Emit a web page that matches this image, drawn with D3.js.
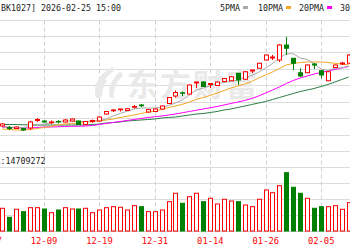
<!DOCTYPE html>
<html><head><meta charset="utf-8">
<script src="https://cdn.jsdelivr.net/npm/d3@7"></script>
<style>body{margin:0;background:#fff;overflow:hidden}svg{display:block}</style>
</head><body>
<svg id="c" width="350" height="250"></svg>
<script>
// ---- data ----
const leadDates = ["11-27","11-28"];
const dates = ["12-01","12-02","12-03","12-04","12-05","12-08","12-09","12-10","12-11","12-12",
 "12-15","12-16","12-17","12-18","12-19","12-22","12-23","12-24","12-25","12-26",
 "12-29","12-30","12-31","01-05","01-06","01-07","01-08","01-09","01-12","01-13",
 "01-14","01-15","01-16","01-19","01-20","01-21","01-22","01-23","01-26","01-27",
 "01-28","01-29","01-30","02-02","02-03","02-04","02-05","02-06","02-09","02-10","02-11"];
const open  = [2100,2094,2090,2090,2092,2122,2120,2113,2118,2116,2120,2120,2106,2118,2120,2148,2161,2165,2162,2175,
 2184,2156,2158,2168,2190,2220,2233,2228,2272,2276,2266,2262,2278,2281,2311,2287,2320,2331,2364,2372,
 2364,2424,2371,2313,2313,2348,2321,2281,2334,2348,2351];
const high  = [2112,2100,2098,2092,2120,2132,2122,2122,2124,2128,2130,2122,2120,2126,2138,2160,2168,2168,2170,2184,
 2188,2168,2170,2182,2216,2242,2238,2266,2276,2280,2272,2278,2292,2300,2312,2320,2324,2352,2386,2384,
 2428,2457,2372,2331,2346,2352,2324,2320,2346,2357,2388];
const low   = [2096,2084,2088,2080,2084,2116,2114,2108,2110,2114,2118,2104,2104,2112,2118,2146,2156,2158,2160,2170,
 2176,2154,2156,2166,2188,2214,2220,2226,2252,2256,2252,2260,2276,2280,2264,2284,2312,2330,2362,2364,
 2356,2384,2324,2296,2312,2328,2291,2280,2332,2344,2348];
const close = [2108,2090,2096,2084,2116,2126,2116,2116,2116,2124,2128,2106,2118,2122,2136,2158,2164,2168,2169,2178,
 2181,2166,2168,2180,2214,2234,2231,2264,2276,2258,2270,2276,2290,2297,2284,2317,2324,2351,2384,2376,
 2424,2411,2351,2300,2344,2344,2304,2317,2344,2352,2384];
const volume = [5680000,3430000,5430000,4830000,5830000,5830000,5500000,4580000,5250000,5830000,
 5500000,5500000,5680000,4580000,5250000,5830000,6080000,5930000,5250000,6330000,
 6080000,4830000,4830000,5250000,7330000,9430000,6930000,8580000,9430000,7330000,
 8180000,6750000,7930000,7500000,7330000,6500000,6080000,7930000,10250000,9580000,
 11330000,14580000,10930000,9430000,8180000,5680000,6080000,6080000,6330000,5430000,7080000];
const ma5  = [2096,2096,2094,2094,2099,2102,2108,2112,2118,2120,2120,2118,2118,2120,2122,2128,2140,2150,2159,2168,
 2172,2172,2172,2175,2182,2192,2205,2224,2244,2252,2260,2269,2274,2278,2284,2293,2302,2315,2332,2350,
 2372,2389,2389,2372,2366,2350,2328,2322,2331,2332,2340];
const ma10 = [2088,2086,2084,2084,2086,2090,2094,2098,2104,2108,2110,2112,2114,2118,2120,2124,2128,2134,2139,2144,
 2150,2155,2160,2166,2174,2180,2187,2196,2206,2214,2222,2232,2242,2252,2260,2268,2278,2292,2304,2316,
 2330,2344,2350,2354,2356,2356,2356,2354,2351,2348,2345];
const ma20 = [2096,2094,2093,2092,2092,2094,2096,2096,2097,2098,2099,2099,2100,2102,2106,2110,2114,2118,2122,2126,
 2130,2134,2137,2140,2144,2148,2153,2158,2163,2168,2173,2178,2184,2190,2196,2202,2210,2220,2232,2244,
 2256,2270,2282,2292,2300,2308,2314,2320,2326,2332,2338];
const ma30 = [2106,2106,2106,2105,2105,2104,2104,2104,2104,2104,2104,2104,2104,2106,2108,2112,2114,2116,2120,2122,
 2124,2126,2128,2132,2134,2136,2140,2144,2148,2150,2154,2158,2164,2168,2174,2180,2186,2192,2198,2206,
 2214,2222,2230,2238,2244,2250,2258,2266,2276,2286,2296];
const tickLabels = ["11-27","12-09","12-19","12-31","01-14","01-26","02-05"];
const titleText = "[BK1027] 2026-02-25 15:00";
const legendLabels = ["5PMA","10PMA","20PMA","30PMA"];
const legendColors = ["#a8a8a8","#f5a623","#ff00ff","#2e7d46"];
const volPrefix = "VOL";
const volText = ":14709272";
const watermark = "东方财富";

// ---- layout ----
const W = 350, H = 250;
const priceTop = 19.5, priceBottom = 151, volTop = 151, volBottom = 231;
const svg = d3.select("#c");
const mono = "'DejaVu Sans Mono', monospace";
const CH = 5; // character cell width of the bitmap-like font

function monoText(sel, str, cell) {
  return sel.text(str).attr("font-family", mono).attr("font-size", 9.5)
    .attr("textLength", str.length * (cell || CH)).attr("lengthAdjust", "spacingAndGlyphs");
}

const allDates = leadDates.concat(dates);
const step = 6.93;
const xStart = 2.2 - (leadDates.length + 0.5) * step;
const x = d3.scaleBand().domain(allDates).range([xStart, xStart + allDates.length * step]).padding(0);
const cx = d => x(d) + x.bandwidth() / 2;
const y = d3.scaleLinear().domain([2000, 2526]).range([priceBottom, priceTop]);
const yv = d3.scaleLinear().domain([0, 20000000]).range([volBottom, volTop]);

// grid
const g = svg.append("g");
const priceGrid = d3.range(9).map(j => 2000 + j * (2526 - 2000) / 8);
g.selectAll("line.hp").data(priceGrid).join("line")
  .attr("x1", 0).attr("x2", W)
  .attr("y1", d => Math.round(y(d)) + 0.5).attr("y2", d => Math.round(y(d)) + 0.5)
  .attr("stroke", "#dcdcdc").attr("stroke-width", 1);
const volGrid = d3.range(6).map(j => j * 20000000 / 5);
g.selectAll("line.hv").data(volGrid).join("line")
  .attr("x1", 0).attr("x2", W)
  .attr("y1", d => Math.round(yv(d)) + 0.5).attr("y2", d => Math.round(yv(d)) + 0.5)
  .attr("stroke", d => d === 0 ? "#c8c8c8" : "#dcdcdc").attr("stroke-width", 1);
g.selectAll("line.v").data(tickLabels).join("line")
  .attr("x1", d => Math.round(cx(d)) + 0.5).attr("x2", d => Math.round(cx(d)) + 0.5)
  .attr("y1", priceTop + 1).attr("y2", volBottom)
  .attr("stroke", "#d0d0d0").attr("stroke-dasharray", "4,3");

// watermark
const wm = svg.append("g").attr("fill", "#e9e9e9");
wm.append("path").attr("d", "M113,67 C101,72 92,84 96,98 L101,98 C99,88 104,77 114,71 Z M121,71 C112,78 107,88 110,98 L114,98 C113,89 117,80 123,76 Z M104,79 C99,84 98,90 100,96 L102,96 C102,90 104,85 107,81 Z");
wm.append("text").attr("x", 127).attr("y", 96).text(watermark)
  .attr("font-family", "'Noto Sans CJK SC'").attr("font-weight", "bold")
  .attr("font-size", 31).attr("letter-spacing", 2);

// MA lines
const maList = [ma30, ma20, ma10, ma5];
const maCols = [legendColors[3], legendColors[2], legendColors[1], legendColors[0]];
maList.forEach((arr, i) => {
  svg.append("path").datum(arr)
    .attr("fill", "none").attr("stroke", maCols[i]).attr("stroke-width", 1)
    .attr("d", d3.line().x((d, k) => cx(dates[k])).y(d => y(d)));
});

// candles
const data = dates.map((d, i) => ({d, o: open[i], h: high[i], l: low[i], c: close[i], v: volume[i]}));
const RED = "#ff0000", GREEN = "#008000";
const colr = e => e.c >= e.o ? RED : GREEN;
const bw = 4;
const cg = svg.append("g");
cg.selectAll("line").data(data).join("line")
  .attr("x1", e => Math.round(cx(e.d)) + 0.5).attr("x2", e => Math.round(cx(e.d)) + 0.5)
  .attr("y1", e => y(e.h)).attr("y2", e => y(e.l))
  .attr("stroke", colr);
cg.selectAll("rect").data(data).join("rect")
  .attr("x", e => Math.round(cx(e.d)) - bw / 2 + 0.5)
  .attr("width", bw)
  .attr("y", e => y(Math.max(e.o, e.c)))
  .attr("height", e => Math.max(Math.abs(y(e.o) - y(e.c)), 0.5))
  .attr("fill", e => e.c >= e.o ? "#fff" : GREEN)
  .attr("stroke", colr).attr("stroke-width", 1);

// volume
svg.append("g").selectAll("rect").data(data).join("rect")
  .attr("x", e => Math.round(cx(e.d)) - bw / 2 + 0.5)
  .attr("width", bw)
  .attr("y", e => yv(e.v))
  .attr("height", e => yv(0) - yv(e.v))
  .attr("fill", e => e.c >= e.o ? "#fff" : GREEN)
  .attr("stroke", colr).attr("stroke-width", 1);

// x labels
svg.append("g").selectAll("text").data(tickLabels).join("text")
  .attr("x", d => cx(d) - 13).attr("y", 244)
  .each(function (d) { monoText(d3.select(this), d, 5.3); })
  .attr("fill", "#ff0000");

// title
monoText(svg.append("text").attr("x", -4).attr("y", 10.5), titleText).attr("fill", "#222");

// legend
const legendX = [220, 258, 299, 340];
legendLabels.forEach((t, i) => {
  monoText(svg.append("text").attr("x", legendX[i]).attr("y", 10.5), t).attr("fill", "#222");
  svg.append("rect").attr("x", legendX[i] + t.length * CH + 3).attr("y", 6).attr("width", 5).attr("height", 3)
    .attr("fill", legendColors[i]);
});

// volume label (prefix falls outside the left edge, as in the cropped original)
const vt = svg.append("text").attr("x", 0.5 - volPrefix.length * CH).attr("y", 164);
monoText(vt, volPrefix + volText).attr("fill", "#222");
</script>
</body></html>
